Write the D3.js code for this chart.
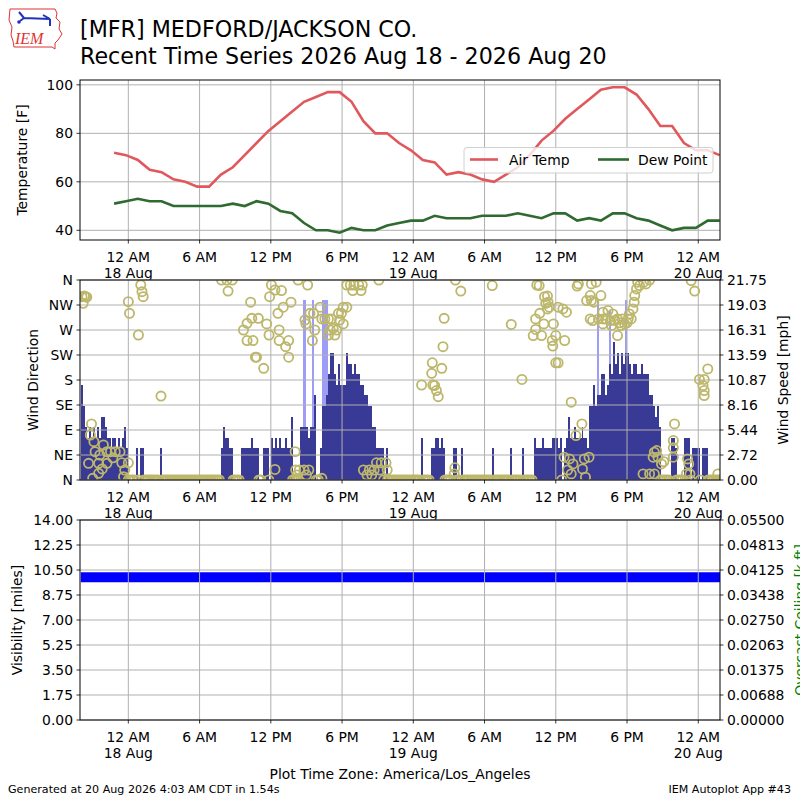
<!DOCTYPE html>
<html>
<head>
<meta charset="utf-8">
<script src="https://cdn.jsdelivr.net/npm/d3@7"></script>
<style>
  body { margin: 0; background: #fff; }
  svg { font-family: "DejaVu Sans", sans-serif; }
</style>
</head>
<body>
<div id="app"></div>
<script>
// ---- data ----
// hourly obs, first one at 10:48 PM 17 Aug (hours counted from 18 Aug 00:00)
const obsFirstHour = -1.2;
const tempF = [72, 71, 69, 65, 64, 61, 60, 58, 58, 63, 66, 71, 76, 81, 85, 89, 93, 95, 97, 97,
  93, 85, 80, 80, 76, 73, 69, 68, 63, 64, 63, 61, 60, 63, 66, 71, 77, 81, 86, 90,
  94, 98, 99, 99, 96, 90, 83, 83, 76, 73, 73, 71];
const dewF = [51, 52, 53, 52, 52, 50, 50, 50, 50, 50, 51, 50, 52, 51, 48, 47, 43, 40, 40, 39,
  41, 40, 40, 42, 43, 44, 44, 46, 45, 45, 45, 46, 46, 46, 47, 46, 45, 47, 47, 44,
  45, 44, 47, 47, 45, 44, 42, 40, 41, 41, 44, 44];

// 10 minute wind speed [knots], starting 8 PM 17 Aug, one row = 2 hours
const windFirstHour = -4;
const windKnots = [
  9, 7, 5, 4, 5, 4, 5, 4, 5, 4, 6, 6,
  5, 4, 4, 3, 4, 4, 3, 4, 3, 4, 5, 3,
  0, 0, 0, 0, 3, 0, 3, 3, 0, 0, 0, 0,
  0, 0, 0, 0, 3, 0, 0, 0, 0, 0, 0, 0,
  0, 0, 0, 0, 0, 0, 0, 0, 0, 0, 0, 0,
  0, 0, 0, 0, 0, 0, 0, 0, 0, 0, 0, 3,
  5, 4, 4, 3, 3, 0, 0, 0, 0, 3, 3, 3,
  3, 3, 4, 3, 3, 3, 0, 0, 3, 3, 3, 0,
  4, 3, 4, 3, 4, 3, 3, 4, 3, 3, 6, 0,
  0, 0, 0, 5, 5, 5, 5, 4, 5, 5, 8, 0,
  0, 3, 7, 7, 8, 10, 12, 12, 10, 9, 11, 9,
  9, 9, 12, 11, 11, 10, 11, 10, 10, 9, 9, 8,
  8, 7, 7, 5, 5, 3, 3, 3, 3, 0, 3, 0,
  0, 0, 0, 0, 0, 0, 0, 0, 0, 0, 0, 0,
  0, 0, 0, 0, 4, 0, 0, 0, 0, 3, 3, 4,
  4, 3, 4, 3, 0, 0, 0, 0, 3, 3, 0, 0,
  3, 0, 0, 0, 0, 0, 0, 0, 0, 0, 0, 0,
  0, 0, 0, 0, 3, 0, 0, 0, 0, 0, 0, 0,
  0, 3, 0, 0, 0, 0, 0, 3, 0, 0, 0, 0,
  0, 4, 3, 3, 3, 4, 3, 3, 3, 3, 4, 4,
  4, 3, 4, 0, 3, 4, 6, 4, 4, 5, 4, 4,
  4, 5, 4, 4, 3, 7, 7, 9, 7, 8, 8, 10,
  10, 8, 9, 11, 10, 13, 11, 12, 10, 12, 11, 12,
  12, 11, 10, 11, 11, 10, 10, 11, 10, 10, 10, 8,
  8, 7, 6, 7, 5, 0, 0, 0, 0, 0, 4, 4,
  3, 0, 0, 0, 0, 4, 4, 4, 0, 3, 3, 3,
  3, 0, 3, 3, 3, 0, 0, 0, 0, 0, 0, 0
];
const gustHours = [14.67, 14.83, 15.5, 16.33, 16.5, 16.67, 39.5, 40.5, 41.83];
const gustKnots = [17, 17, 17, 17, 17, 17, 17, 16, 17];

// wind direction obs [hour, degrees] (calm periods are plotted at 0 from windKnots)
const dirObs = [
  [-3.9, 330], [-3.8, 318], [-3.7, 331], [-3.6, 330], [-3.5, 329],
  [-3.1, 101], [-3.2, 81], [-2.9, 69], [-2.8, 51], [-3.35, 30], [-2.5, 30], [-2.1, 63],
  [-1.8, 51], [-1.5, 51], [-1.1, 51], [-0.7, 51], [-2.4, 45], [-1.8, 30], [-2.5, 12],
  [-3.0, 3], [-0.55, 31], [0.0, 31], [-0.3, 18], [-0.4, 6], [-1.3, 40], [-2.2, 20],
  [0.0, 321], [0.1, 300], [0.85, 261], [1.05, 351], [1.15, 339], [1.25, 330], [2.75, 151],
  [7.85, 360], [8.3, 360], [8.75, 360], [8.4, 340],
  [9.7, 270], [10.0, 251], [10.5, 251], [10.3, 320], [10.4, 291], [10.95, 291], [10.0, 282],
  [10.7, 221], [10.8, 221], [11.4, 201], [11.65, 281], [11.85, 261], [11.9, 330], [12.05, 351],
  [12.35, 342], [12.9, 341], [12.6, 300], [13.05, 311], [13.7, 320], [12.7, 270], [12.7, 251],
  [13.5, 251], [13.25, 240], [13.5, 221], [14.3, 360], [15.1, 351], [14.05, 51],
  [14.88, 288], [14.96, 281], [15.3, 300], [15.6, 300], [16.15, 311], [15.7, 270], [15.5, 251],
  [16.3, 290], [16.55, 290], [16.85, 290], [17.1, 290], [17.25, 273], [17.55, 270], [17.4, 261],
  [16.85, 261], [17.7, 300], [17.95, 300], [18.1, 311], [18.4, 311], [17.8, 288], [18.1, 281],
  [17.0, 270],
  [18.4, 351], [18.7, 351], [19.0, 351], [19.4, 351], [19.7, 351], [18.9, 341], [19.6, 341], [21.1, 360],
  [14.1, 18], [14.4, 18], [14.8, 18], [15.2, 18], [14.2, 9], [15.0, 9], [12.35, 19], [16.3, 3],
  [19.8, 18], [20.1, 9], [20.5, 9], [20.9, 31], [21.3, 31], [21.7, 31], [21.8, 18], [21.2, 18],
  [20.7, 18], [20.3, 18],
  [24.7, 171], [25.55, 192], [25.6, 211], [25.65, 171], [25.8, 170], [25.95, 161], [26.1, 150],
  [26.4, 201], [26.5, 240], [26.6, 291], [27.55, 360], [28.0, 340], [27.5, 22], [27.45, 11],
  [30.65, 350], [32.25, 280], [33.15, 181], [34.6, 350],
  [34.1, 260], [34.3, 271], [34.3, 290], [34.65, 300], [34.8, 260], [35.0, 281], [35.3, 331],
  [35.35, 320], [35.45, 311], [35.3, 308], [35.7, 251], [35.8, 281], [35.75, 241], [36.0, 211],
  [36.2, 311], [36.0, 260], [36.6, 308], [36.9, 302], [36.75, 251], [34.4, 351], [35.05, 330],
  [35.15, 318],
  [37.9, 353], [37.8, 349], [39.0, 353], [39.4, 356], [38.6, 323], [39.0, 323], [38.9, 332],
  [39.8, 332], [39.2, 320],
  [38.9, 290], [39.1, 287], [39.97, 302], [40.4, 305], [40.8, 299], [40.2, 290], [41.2, 290],
  [42.1, 290], [41.8, 281], [42.35, 290], [39.97, 281], [40.7, 278], [41.5, 278], [41.0, 287],
  [39.6, 290], [41.2, 260], [41.6, 290], [40.6, 287], [41.4, 283], [40.0, 290], [42.0, 283],
  [42.65, 332], [42.8, 344], [42.6, 320], [42.5, 308], [42.2, 299], [42.9, 356], [43.4, 356],
  [43.6, 353], [43.05, 350], [43.9, 360],
  [47.4, 359], [47.7, 340],
  [48.8, 200], [48.1, 181], [48.5, 181], [48.4, 170], [48.5, 161], [48.5, 152],
  [36.2, 211], [37.3, 140], [38.2, 101], [37.7, 80],
  [37.15, 38], [37.45, 29], [38.4, 38], [38.8, 41], [38.25, 20], [37.3, 11], [38.5, 5],
  [36.7, 41], [37.0, 18],
  [46.0, 101], [45.9, 71], [45.9, 58], [45.9, 41], [44.3, 50], [44.6, 41], [44.2, 41],
  [44.9, 29], [44.5, 53], [45.1, 33],
  [43.35, 11], [43.9, 11], [44.3, 11],
  [47.1, 38], [47.2, 29], [47.0, 11], [47.3, 11],
  [49.65, 11]
];

// hourly visibility [miles], starting 8 PM 17 Aug
const visFirstHour = -4;
const visMiles = [10, 10, 10, 10, 10, 10, 10, 10, 10, 10, 10, 10, 10, 10, 10, 10, 10, 10, 10, 10,
  10, 10, 10, 10, 10, 10, 10, 10, 10, 10, 10, 10, 10, 10, 10, 10, 10, 10, 10, 10,
  10, 10, 10, 10, 10, 10, 10, 10, 10, 10, 10, 10, 10, 10, 10];

const tempTicks = [40, 60, 80, 100];
const dirLabels = ["N", "NE", "E", "SE", "S", "SW", "W", "NW", "N"];
const speedLabels = ["0.00", "2.72", "5.44", "8.16", "10.87", "13.59", "16.31", "19.03", "21.75"];
const visLabels = ["0.00", "1.75", "3.50", "5.25", "7.00", "8.75", "10.50", "12.25", "14.00"];
const ceilLabels = ["0.00000", "0.00688", "0.01375", "0.02063", "0.02750", "0.03438", "0.04125", "0.04813", "0.05500"];

// ---- layout ----
const L = 80, R = 720;
const FS = 13.9;
const gridColor = "#b0b0b0";

const base = new Date(2026, 7, 18, 0, 0);
const at = (h) => new Date(base.getTime() + h * 3600e3);

const x = d3.scaleTime().domain([at(-4.07), at(49.83)]).range([L, R]);
const xTicks = x.ticks(d3.timeHour.every(6));

const svg = d3.select("#app").append("svg")
  .attr("width", 800).attr("height", 800)
  .attr("viewBox", "0 0 800 800");

const defs = svg.append("defs");
const clip = (id, top, bottom) => {
  defs.append("clipPath").attr("id", id)
    .append("rect").attr("x", L).attr("y", top).attr("width", R - L).attr("height", bottom - top);
  return `url(#${id})`;
};

//panel frame + background
const panelBg = (top, bottom) => {
  svg.append("rect").attr("x", L).attr("y", top).attr("width", R - L).attr("height", bottom - top)
    .attr("fill", "#fff");
};
const panelFrame = (top, bottom) => {
  svg.append("rect").attr("x", L).attr("y", top).attr("width", R - L).attr("height", bottom - top)
    .attr("fill", "none").attr("stroke", "#000").attr("stroke-width", 1);
};

//grid
const drawGrid = (top, bottom, yPositions) => {
  const g = svg.append("g");
  xTicks.forEach((t) => {
    g.append("line").attr("x1", x(t)).attr("x2", x(t)).attr("y1", top).attr("y2", bottom)
      .attr("stroke", gridColor).attr("stroke-width", 1);
  });
  yPositions.forEach((y) => {
    g.append("line").attr("x1", L).attr("x2", R).attr("y1", y).attr("y2", y)
      .attr("stroke", gridColor).attr("stroke-width", 1);
  });
};

//x axis ticks + two-line labels
const drawXAxis = (bottom) => {
  const g = svg.append("g");
  xTicks.forEach((t) => {
    const px = x(t);
    g.append("line").attr("x1", px).attr("x2", px).attr("y1", bottom).attr("y2", bottom + 3.5)
      .attr("stroke", "#000").attr("stroke-width", 0.8);
    g.append("text").attr("x", px).attr("y", bottom + 22).attr("text-anchor", "middle")
      .attr("font-size", FS).text(d3.timeFormat("%-I %p")(t));
    if (t.getHours() === 0) {
      g.append("text").attr("x", px).attr("y", bottom + 38.3).attr("text-anchor", "middle")
        .attr("font-size", FS).text(d3.timeFormat("%-d %b")(t));
    }
  });
};

//y ticks with labels, side = left|right
const drawYAxis = (positions, labels, side, color) => {
  const g = svg.append("g");
  positions.forEach((y, i) => {
    const x0 = side === "left" ? L : R;
    const dir = side === "left" ? -1 : 1;
    g.append("line").attr("x1", x0).attr("x2", x0 + dir * 3.5).attr("y1", y).attr("y2", y)
      .attr("stroke", "#000").attr("stroke-width", 0.8);
    g.append("text").attr("x", x0 + dir * 7).attr("y", y).attr("dy", "0.36em")
      .attr("text-anchor", side === "left" ? "end" : "start")
      .attr("font-size", FS).attr("fill", color || "#000").text(labels[i]);
  });
};

const yLabel = (text, px, cy, color) => {
  svg.append("text").attr("transform", `translate(${px},${cy}) rotate(-90)`)
    .attr("text-anchor", "middle").attr("font-size", FS).attr("fill", color || "#000").text(text);
};

// ---- header ----
const logo = svg.append("g");
logo.append("path")
  .attr("d", "M10,9 L55,9 L57,13 L56,18 L60,22 L59,29 L62,34 L58,40 L55,43 L55,49 L52,47 L14,47 L13,41 L11,35 L12,27 L9,20 Z")
  .attr("fill", "none").attr("stroke", "#d33").attr("stroke-width", 1);
logo.append("path").attr("d", "M19,12 L24,18 M24,18 L50,19 M43,15 L50,19 M50,19 L50,26 M20,21 L24,18")
  .attr("fill", "none").attr("stroke", "#2233bb").attr("stroke-width", 2);
logo.append("circle").attr("cx", 19).attr("cy", 22).attr("r", 1.8).attr("fill", "#2233bb");
logo.append("text").attr("x", 15).attr("y", 44).attr("font-family", "Liberation Serif, serif")
  .attr("font-style", "italic").attr("font-size", 16).attr("fill", "#d33").text("IEM");

svg.append("text").attr("x", 80).attr("y", 36.5).attr("font-size", 22.2)
  .text("[MFR] MEDFORD/JACKSON CO.");
svg.append("text").attr("x", 80).attr("y", 63.5).attr("font-size", 22.2)
  .text("Recent Time Series 2026 Aug 18 - 2026 Aug 20");

// ---- temperature panel ----
const T0 = 80, T1 = 240;
const yT = d3.scaleLinear().domain([36, 102]).range([T1, T0]);
panelBg(T0, T1);
drawGrid(T0, T1, tempTicks.map(yT));
const obsX = (i) => x(at(obsFirstHour + i));
const line = d3.line().x((d, i) => obsX(i)).y((d) => yT(d));
const tClip = clip("clipT", T0, T1);
svg.append("path").datum(tempF).attr("clip-path", tClip).attr("d", line)
  .attr("fill", "none").attr("stroke", "#e0585c").attr("stroke-width", 2.6);
svg.append("path").datum(dewF).attr("clip-path", tClip).attr("d", line)
  .attr("fill", "none").attr("stroke", "#2f6a30").attr("stroke-width", 2.6);
panelFrame(T0, T1);
drawYAxis(tempTicks.map(yT), tempTicks.map(String), "left");
drawXAxis(T1);
yLabel("Temperature [F]", 27, (T0 + T1) / 2);

//legend
const lg = svg.append("g").attr("transform", "translate(464,147.5)");
lg.append("rect").attr("width", 249).attr("height", 25.5).attr("rx", 3)
  .attr("fill", "#fff").attr("fill-opacity", 0.8).attr("stroke", "#d0d0d0");
lg.append("line").attr("x1", 6).attr("x2", 34).attr("y1", 12).attr("y2", 12)
  .attr("stroke", "#e0585c").attr("stroke-width", 2.6);
lg.append("text").attr("x", 45).attr("y", 12).attr("dy", "0.36em").attr("font-size", FS).text("Air Temp");
lg.append("line").attr("x1", 134).attr("x2", 165).attr("y1", 12).attr("y2", 12)
  .attr("stroke", "#2f6a30").attr("stroke-width", 2.6);
lg.append("text").attr("x", 174).attr("y", 12).attr("dy", "0.36em").attr("font-size", FS).text("Dew Point");

// ---- wind panel ----
const W0 = 280, W1 = 480;
const yDir = d3.scaleLinear().domain([0, 360]).range([W1, W0]);
const ySpd = d3.scaleLinear().domain([0, 21.75]).range([W1, W0]);
const KT2MPH = 1.15078;
panelBg(W0, W1);
const wClip = clip("clipW", W0, W1);
const wg = svg.append("g").attr("clip-path", wClip).attr("shape-rendering", "crispEdges");
const tenMin = 1 / 6;

//gusts behind the sustained speed
wg.selectAll(".gust").data(gustKnots).enter().append("rect")
  .attr("x", (d, i) => x(at(gustHours[i])))
  .attr("width", (d, i) => x(at(gustHours[i] + tenMin)) - x(at(gustHours[i])))
  .attr("y", (d) => ySpd(d * KT2MPH))
  .attr("height", (d) => W1 - ySpd(d * KT2MPH))
  .attr("fill", "#9d9df7");

wg.selectAll(".spd").data(windKnots).enter().append("rect")
  .attr("x", (d, i) => x(at(windFirstHour + i * tenMin)))
  .attr("width", (d, i) => x(at(windFirstHour + (i + 1) * tenMin)) - x(at(windFirstHour + i * tenMin)))
  .attr("y", (d) => ySpd(d * KT2MPH))
  .attr("height", (d) => W1 - ySpd(d * KT2MPH))
  .attr("fill", "#393996");

drawGrid(W0, W1, d3.range(9).map((k) => yDir(k * 45)));

const calmObs = windKnots
  .map((d, i) => [windFirstHour + i * tenMin, d])
  .filter((d) => d[1] === 0)
  .map((d) => [d[0], 0]);
const cg = svg.append("g").attr("clip-path", wClip);
cg.selectAll("circle").data(calmObs.concat(dirObs)).enter().append("circle")
  .attr("cx", (d) => x(at(d[0])))
  .attr("cy", (d) => yDir(d[1]))
  .attr("r", 4.6)
  .attr("fill", "none")
  .attr("stroke", "#bdb76b")
  .attr("stroke-width", 1.8);

panelFrame(W0, W1);
drawYAxis(d3.range(9).map((k) => yDir(k * 45)), dirLabels, "left");
drawYAxis(d3.range(9).map((k) => ySpd(k * 21.75 / 8)), speedLabels, "right");
drawXAxis(W1);
yLabel("Wind Direction", 38, (W0 + W1) / 2);
yLabel("Wind Speed [mph]", 788, (W0 + W1) / 2);

// ---- visibility panel ----
const V0 = 520, V1 = 720;
const yVis = d3.scaleLinear().domain([0, 14]).range([V1, V0]);
const yCeil = d3.scaleLinear().domain([0, 0.055]).range([V1, V0]);
panelBg(V0, V1);
const vClip = clip("clipV", V0, V1);
svg.append("path").datum(visMiles).attr("clip-path", vClip)
  .attr("d", d3.line().x((d, i) => x(at(visFirstHour + i))).y((d) => yVis(d)))
  .attr("fill", "none").attr("stroke", "#0000ff").attr("stroke-width", 10);
drawGrid(V0, V1, d3.range(9).map((k) => yVis(k * 1.75)));
panelFrame(V0, V1);
drawYAxis(d3.range(9).map((k) => yVis(k * 1.75)), visLabels, "left");
drawYAxis(d3.range(9).map((k) => yCeil(k * 0.055 / 8)), ceilLabels, "right");
drawXAxis(V1);
yLabel("Visibility [miles]", 22, (V0 + V1) / 2);
yLabel("Overcast Ceiling [k ft]", 804.5, (V0 + V1) / 2, "green");

// ---- footer ----
svg.append("text").attr("x", 400).attr("y", 779).attr("text-anchor", "middle")
  .attr("font-size", FS).text("Plot Time Zone: America/Los_Angeles");
svg.append("text").attr("x", 8).attr("y", 793).attr("font-size", 11.1)
  .text("Generated at 20 Aug 2026 4:03 AM CDT in 1.54s");
svg.append("text").attr("x", 791).attr("y", 793).attr("text-anchor", "end").attr("font-size", 11.1)
  .text("IEM Autoplot App #43");
</script>
</body>
</html>
